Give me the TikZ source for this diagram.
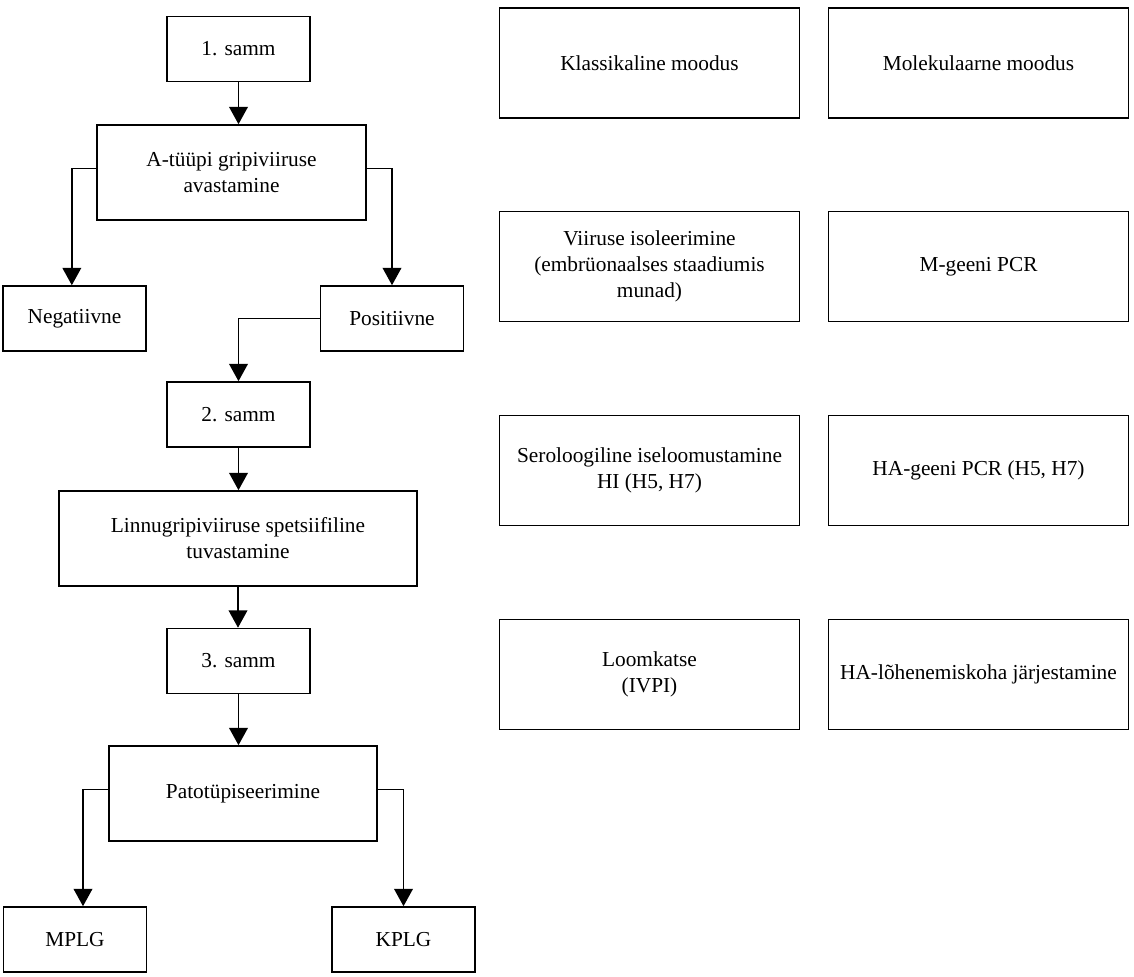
\documentclass[tikz,border=0pt]{standalone}
\usepackage{fontspec}
\setmainfont{Liberation Serif}
\usetikzlibrary{arrows.meta}

\begin{document}
\begin{tikzpicture}[>={Triangle[length=13pt, width=14pt]}, x=0.75pt, y=-0.75pt,
    box/.style={draw, line width=1.2pt, align=center, inner sep=2pt,
        font=\fontsize{16}{19.5}\selectfont},
    stepbox/.style={box, minimum width=107.25pt, minimum height=48.75pt},
    bigbox/.style={box, minimum height=71.25pt},
    methodbox/.style={box, minimum width=225pt, minimum height=82.5pt},
    link/.style={->, line width=1.2pt}]

    % 0. picture frame (pixel units of the original)
    \useasboundingbox (0,0) rectangle (1134,977);

    % column centres of the method table
    \def\colA{649.5}
    \def\colB{978.5}

    % 1. left flow chart
    \node[stepbox] (samm1) at (238.5,49) {1. samm};
    \node[bigbox, minimum width=201.75pt] (atype) at (231.5,172.5)
        {A-tüüpi gripiviiruse\\avastamine};
    \node[stepbox] (neg) at (74.5,318.5) {Negatiivne};
    \node[stepbox] (pos) at (392,318.5) {Positiivne};
    \node[stepbox] (samm2) at (238.5,414.5) {2. samm};
    \node[bigbox, minimum width=268.5pt] (bird) at (238,538.5)
        {Linnugripiviiruse spetsiifiline\\tuvastamine};
    \node[stepbox] (samm3) at (238.5,661) {3. samm};
    \node[bigbox, minimum width=201pt] (patho) at (243,793.5) {Patotüpiseerimine};
    \node[stepbox] (mplg) at (75,939.5) {MPLG};
    \node[stepbox] (kplg) at (403.5,939.5) {KPLG};

    % 2. connectors
    \draw[link] (samm1.south) -- (samm1.south |- atype.north);
    \draw[link] ([yshift=3pt]atype.west) -| ([xshift=-2pt]neg.north);
    \draw[link] ([yshift=3pt]atype.east) -| (pos.north);
    \draw[link] (pos.west) -| (samm2.north);
    \draw[link] (samm2.south) -- (samm2.south |- bird.north);
    \draw[link] (bird.south) -- (bird.south |- samm3.north);
    \draw[link] (samm3.south) -- (samm3.south |- patho.north);
    \draw[link] ([yshift=3pt]patho.west) -| ([xshift=6pt]mplg.north);
    \draw[link] ([yshift=3pt]patho.east) -| (kplg.north);

    % 3. method table (classical / molecular)
    \node[methodbox] (klass) at (\colA,63) {Klassikaline moodus};
    \node[methodbox] (molek) at (\colB,63) {Molekulaarne moodus};
    \node[methodbox] (isol) at (\colA,266.5)
        {Viiruse isoleerimine\\(embrüonaalses staadiumis\\munad)};
    \node[methodbox] (mpcr) at (\colB,266.5) {M-geeni PCR};
    \node[methodbox] (sero) at (\colA,470.5)
        {Seroloogiline iseloomustamine\\HI (H5, H7)};
    \node[methodbox] (hapcr) at (\colB,470.5) {HA-geeni PCR (H5, H7)};
    \node[methodbox] (animal) at (\colA,674.5) {Loomkatse\\(IVPI)};
    \node[methodbox] (seq) at (\colB,674.5) {HA-lõhenemiskoha järjestamine};

\end{tikzpicture}
\end{document}
